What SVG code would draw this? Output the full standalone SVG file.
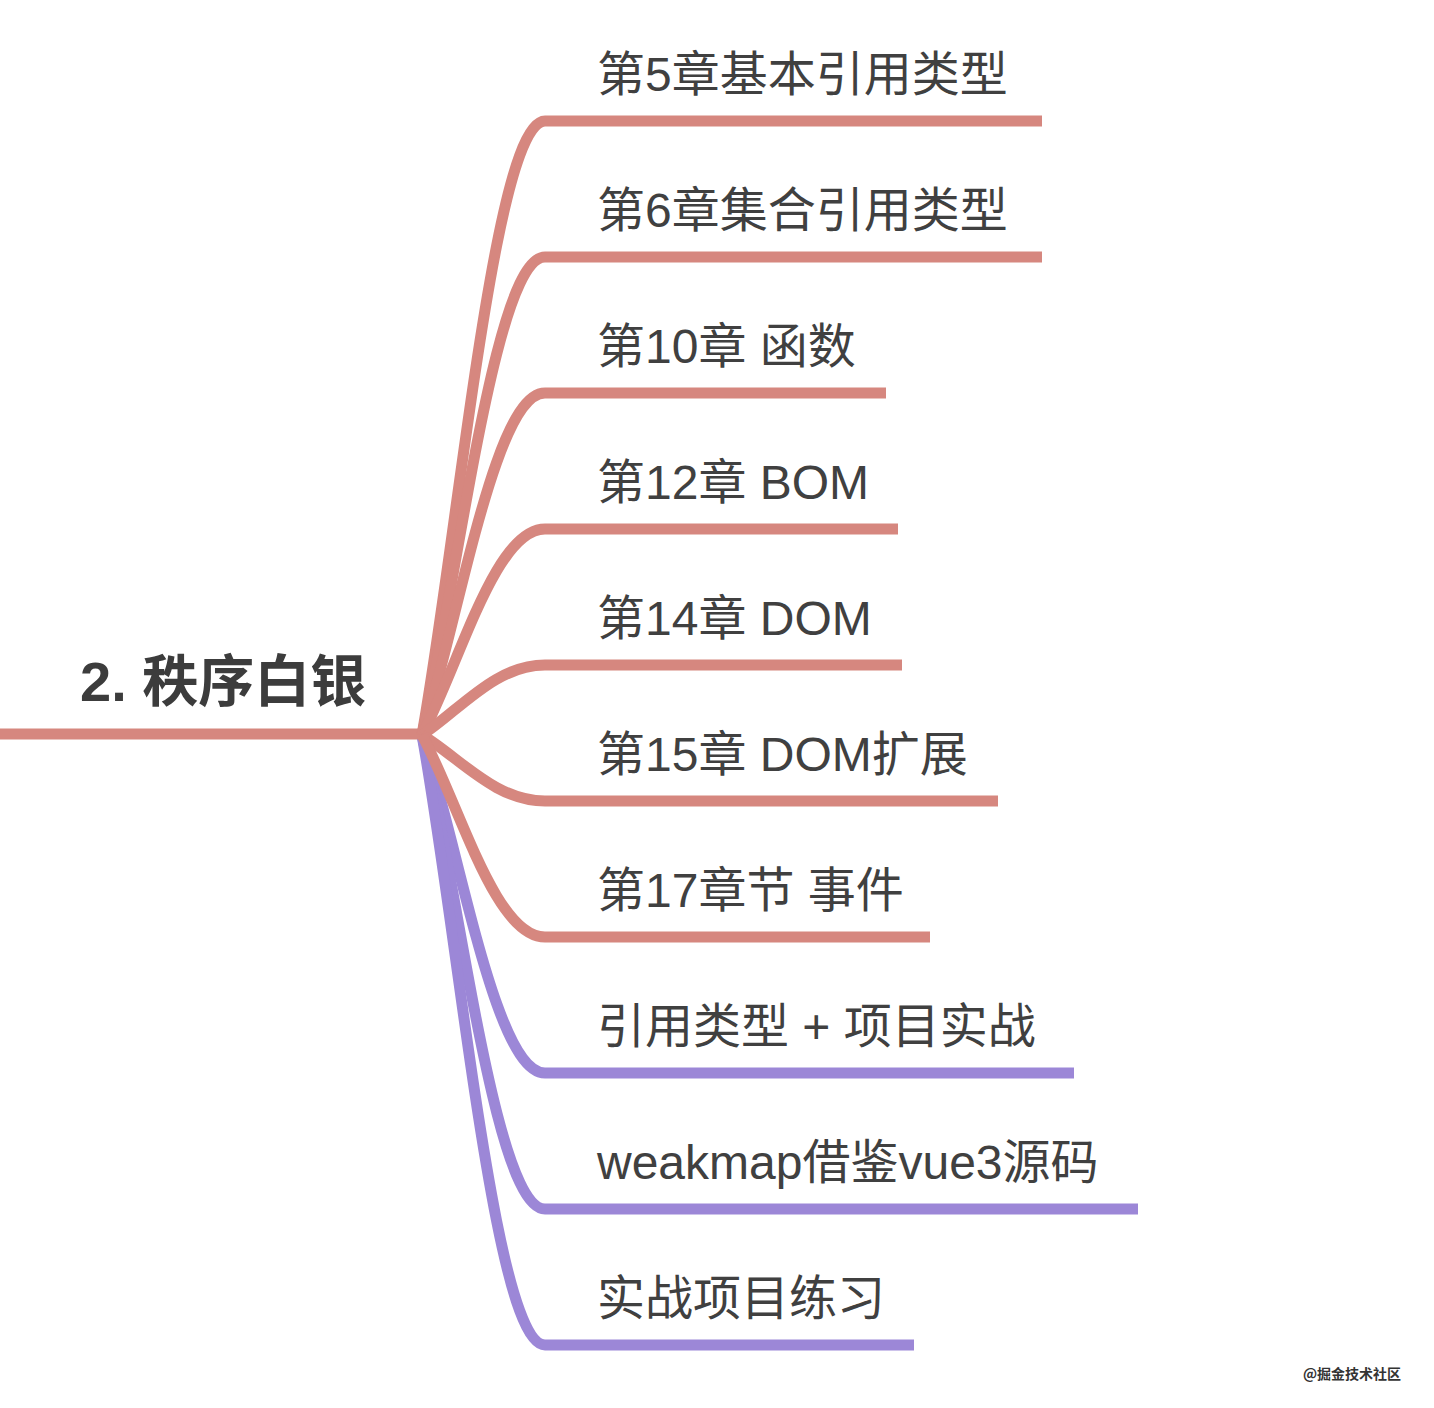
<svg xmlns="http://www.w3.org/2000/svg" width="1434" height="1408" viewBox="0 0 1434 1408">
  <style>
    .red { fill: none; stroke: #D6877F; stroke-width: 11; stroke-linecap: butt; stroke-linejoin: round; }
    .pur { fill: none; stroke: #9C87D7; stroke-width: 11; stroke-linecap: butt; stroke-linejoin: round; }
    .lbl { font-family: "Liberation Sans", "Noto Sans CJK SC", sans-serif; font-size: 48px; fill: #404040; }
    .root { font-family: "Liberation Sans", "Noto Sans CJK SC", sans-serif; font-size: 56px; font-weight: bold; fill: #3c3c3c; }
    .wm { font-family: "Noto Sans CJK SC", sans-serif; font-size: 14px; font-weight: bold; fill: #333333; }
  </style>
  <rect x="0" y="0" width="1434" height="1408" fill="#ffffff"/>

  <g id="connectors">
    <!-- purple branches -->
    <path class="pur" d="M422,735 C460,850 495,1073 545,1073 L1074,1073"/>
    <path class="pur" d="M422,735 C460,898 495,1209 545,1209 L1138,1209"/>
    <path class="pur" d="M422,735 C460,948 495,1345 545,1345 L914,1345"/>
    <!-- root line -->
    <path class="red" d="M0,734 L424,734"/>
    <!-- red branches -->
    <path class="red" d="M422,735 C460,520 495,121 545,121 L1042,121"/>
    <path class="red" d="M422,735 C460,568 495,257 545,257 L1042,257"/>
    <path class="red" d="M422,735 C460,615 495,393 545,393 L886,393"/>
    <path class="red" d="M422,735 C460,663 495,529 545,529 L898,529"/>
    <path class="red" d="M422,735 C460,710 495,665 545,665 L902,665"/>
    <path class="red" d="M422,735 C460,758 495,801 545,801 L998,801"/>
    <path class="red" d="M422,735 C460,806 495,937 545,937 L930,937"/>
  </g>

  <g id="root">
    <text class="root" x="80" y="701">2. 秩序白银</text>
  </g>
  <g id="n1"><text class="lbl" x="597" y="91">第5章基本引用类型</text></g>
  <g id="n2"><text class="lbl" x="597" y="227">第6章集合引用类型</text></g>
  <g id="n3"><text class="lbl" x="597" y="363">第10章 函数</text></g>
  <g id="n4"><text class="lbl" x="597" y="499">第12章 BOM</text></g>
  <g id="n5"><text class="lbl" x="597" y="635">第14章 DOM</text></g>
  <g id="n6"><text class="lbl" x="597" y="771">第15章 DOM扩展</text></g>
  <g id="n7"><text class="lbl" x="597" y="907">第17章节 事件</text></g>
  <g id="n8"><text class="lbl" x="597" y="1043">引用类型 + 项目实战</text></g>
  <g id="n9"><text class="lbl" x="597" y="1179">weakmap借鉴vue3源码</text></g>
  <g id="n10"><text class="lbl" x="597" y="1315">实战项目练习</text></g>

  <g id="watermark">
    <text class="wm" x="1303" y="1379">@掘金技术社区</text>
  </g>
</svg>
